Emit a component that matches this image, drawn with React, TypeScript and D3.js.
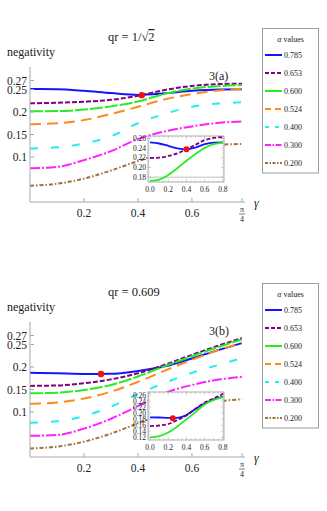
import React from "react";
import * as d3 from "d3";

// ---------- data ----------
const gammas = [0, 0.1, 0.2, 0.3, 0.4, 0.5, 0.6, 0.7, 0.785];
const alphaLabels = ["0.785", "0.653", "0.600", "0.524", "0.400", "0.300", "0.200"];
const yTickValues = [0.1, 0.15, 0.2, 0.25, 0.27];
const yTickLabels = ["0.1", "0.15", "0.2", "0.25", "0.27"];
const xTickValues = [0.2, 0.4, 0.6];

// panel (a): qr = 1/sqrt(2)
const a785 = [0.251, 0.2505, 0.247, 0.242, 0.238, 0.2415, 0.247, 0.25, 0.2505];
const a653 = [0.2195, 0.2205, 0.2228, 0.227, 0.236, 0.249, 0.258, 0.262, 0.263];
const a600 = [0.2015, 0.202, 0.2055, 0.2125, 0.2235, 0.2405, 0.252, 0.2575, 0.26];
const a524 = [0.1725, 0.175, 0.182, 0.1955, 0.2115, 0.228, 0.24, 0.248, 0.252];
const a400 = [0.119, 0.1215, 0.13, 0.146, 0.175, 0.196, 0.2115, 0.219, 0.2215];
const a300 = [0.075, 0.078, 0.093, 0.113, 0.14, 0.157, 0.168, 0.176, 0.179];
const a200 = [0.036, 0.0405, 0.052, 0.07, 0.091, 0.109, 0.121, 0.127, 0.129];
const aDot = [0.414, 0.2374];

// panel (b): qr = 0.609
const b785 = [0.187, 0.186, 0.1845, 0.1848, 0.191, 0.2015, 0.219, 0.238, 0.253];
const b653 = [0.158, 0.159, 0.164, 0.1725, 0.186, 0.205, 0.227, 0.248, 0.264];
const b600 = [0.1415, 0.143, 0.149, 0.16, 0.179, 0.202, 0.224, 0.245, 0.261];
const b524 = [0.118, 0.121, 0.13, 0.145, 0.167, 0.192, 0.216, 0.238, 0.253];
const b400 = [0.076, 0.0795, 0.091, 0.112, 0.14, 0.165, 0.187, 0.205, 0.22];
const b300 = [0.047, 0.049, 0.063, 0.085, 0.113, 0.142, 0.16, 0.172, 0.178];
const b200 = [0.019, 0.023, 0.034, 0.052, 0.075, 0.097, 0.113, 0.124, 0.128];
const bDot = [0.263, 0.1843];

// insets
const insetX = [0, 0.1, 0.2, 0.3, 0.4, 0.5, 0.6, 0.7, 0.8];
const insetXTicks = [0, 0.2, 0.4, 0.6, 0.8];
const insetATicks = [0.18, 0.2, 0.22, 0.24, 0.26];
const insetBTicks = [0.12, 0.14, 0.16, 0.18, 0.2, 0.22, 0.24, 0.26];
const insA785 = [0.2518, 0.2495, 0.2448, 0.2395, 0.2374, 0.2412, 0.2483, 0.2515, 0.2518];
const insA653 = [0.2196, 0.2202, 0.2237, 0.2292, 0.2374, 0.247, 0.2565, 0.261, 0.2625];
const insA600 = [0.1723, 0.1748, 0.1846, 0.1985, 0.214, 0.228, 0.2405, 0.248, 0.2515];
const insADot = [0.4, 0.2374];
const insB785 = [0.186, 0.1855, 0.184, 0.1845, 0.194, 0.214, 0.232, 0.2457, 0.255];
const insB653 = [0.157, 0.159, 0.164, 0.177, 0.192, 0.2145, 0.235, 0.249, 0.264];
const insB600 = [0.12, 0.124, 0.136, 0.156, 0.18, 0.2035, 0.229, 0.2435, 0.253];
const insBDot = [0.25, 0.183];

const colors = ["#1414ff", "#800080", "#22ee22", "#ff8a1a", "#22eeee", "#ff22ff", "#a0703c"];
const dashes = ["none", "5,2", "13,2", "11,6", "8,13", "10,2,2,2", "4,2,1.5,2"];
const legendDashes = ["none", "4,2", "none", "6,4", "4,6", "6,1.5,1.5,1.5", "3,1.5,1.5,1.5"];

const FONT = "'Liberation Serif', 'Times New Roman', serif";

type PanelProps = {
  dy: number;
  title: React.ReactNode;
  tag: string;
  series: number[][];
  dot: number[];
  inset: number[][];
  insetDot: number[];
  insetTicks: number[];
  insetDomain: [number, number];
  insetTop: number;
  insetBottom: number;
  grayLine?: number;
};

function Panel(p: PanelProps) {
  const x = d3.scaleLinear().domain([0, Math.PI / 4]).range([30, 242]);
  const y = d3.scaleLinear().domain([0, 0.3]).range([202 + p.dy, 67 + p.dy]);
  const line = d3
    .line<number>()
    .x((_, i) => x(gammas[i]))
    .y((v) => y(v))
    .curve(d3.curveMonotoneX);

  const ix = d3.scaleLinear().domain([-0.022, 0.812]).range([148, 224]);
  const iy = d3.scaleLinear().domain(p.insetDomain).range([p.insetBottom, p.insetTop]);
  const iline = d3
    .line<number>()
    .x((_, i) => ix(insetX[i]))
    .y((v) => iy(v))
    .curve(d3.curveMonotoneX);
  const insetColors = [colors[0], colors[1], colors[2]];
  const insetDash = ["none", "4,2", "none"];
  const minorX = d3.range(0, 0.81, 0.05);
  const minorY = d3.range(p.insetTicks[0], p.insetDomain[1], 0.005);

  const axisColor = "#a8a8a8";
  const y0 = y(0);
  return (
    <g fontFamily={FONT}>
      {/* title */}
      <text x={108} y={41 + p.dy} fontSize={12.5} fill="#222">
        {p.title}
      </text>
      <text x={7} y={56 + p.dy} fontSize={12} fill="#222">
        negativity
      </text>
      {/* curves */}
      {p.series.map((s, k) => (
        <path
          key={k}
          d={line(s) || ""}
          fill="none"
          stroke={colors[k]}
          strokeWidth={2}
          strokeDasharray={dashes[k]}
        />
      ))}
      <circle cx={x(p.dot[0])} cy={y(p.dot[1])} r={3.2} fill="#ee1111" />
      {/* axes */}
      <line x1={30} x2={30} y1={y0} y2={y(0.3)} stroke={axisColor} strokeWidth={1} />
      <line x1={30} x2={245} y1={y0} y2={y0} stroke={axisColor} strokeWidth={1} />
      {yTickValues.map((v, i) => (
        <g key={i}>
          <line x1={30} x2={34} y1={y(v)} y2={y(v)} stroke={axisColor} />
          <text x={27} y={y(v) + 4} textAnchor="end" fontSize={11.5} fill="#222">
            {yTickLabels[i]}
          </text>
        </g>
      ))}
      {xTickValues.map((v, i) => (
        <g key={i}>
          <line x1={x(v)} x2={x(v)} y1={y0} y2={y0 - 4} stroke={axisColor} />
          <text x={x(v)} y={y0 + 15} textAnchor="middle" fontSize={11.5} fill="#222">
            {v.toFixed(1)}
          </text>
        </g>
      ))}
      <line x1={x(Math.PI / 4)} x2={x(Math.PI / 4)} y1={y0} y2={y0 - 4} stroke={axisColor} />
      <text x={x(Math.PI / 4)} y={y0 + 10} textAnchor="middle" fontSize={8} fill="#222">
        π
      </text>
      <line x1={x(Math.PI / 4) - 3} x2={x(Math.PI / 4) + 3} y1={y0 + 12} y2={y0 + 12} stroke="#222" strokeWidth={0.6} />
      <text x={x(Math.PI / 4)} y={y0 + 19.5} textAnchor="middle" fontSize={8} fill="#222">
        4
      </text>
      <text x={254} y={y0 + 5} fontSize={12} fontStyle="italic" fill="#222">
        γ
      </text>
      <text x={209} y={80 + p.dy} fontSize={12} fill="#222">
        {p.tag}
      </text>
      {/* legend */}
      <rect x={262.5} y={28.5 + p.dy} width={56} height={144.5} fill="white" stroke="#888" strokeWidth={0.8} />
      <text x={290.5} y={42 + p.dy} textAnchor="middle" fontSize={8} fill="#222">
        <tspan fontStyle="italic">α</tspan> values
      </text>
      {alphaLabels.map((lab, k) => {
        const ly = 55 + k * 18 + p.dy;
        return (
          <g key={k}>
            <line x1={265} x2={282} y1={ly} y2={ly} stroke={colors[k]} strokeWidth={2} strokeDasharray={legendDashes[k]} />
            <text x={284} y={ly + 3} fontSize={8} fill="#222">
              {lab}
            </text>
          </g>
        );
      })}
      {/* inset */}
      <rect x={148} y={p.insetTop} width={76} height={p.insetBottom - p.insetTop} fill="white" stroke="#999" strokeWidth={0.8} />
      {p.grayLine !== undefined && (
        <line x1={148} x2={224} y1={iy(p.grayLine)} y2={iy(p.grayLine)} stroke="#b0b0b0" strokeWidth={0.8} />
      )}
      {minorX.map((v, i) => {
        const major = Math.abs(v * 5 - Math.round(v * 5)) < 1e-6;
        const len = major ? 3 : 1.5;
        return (
          <g key={"mx" + i}>
            <line x1={ix(v)} x2={ix(v)} y1={p.insetBottom} y2={p.insetBottom - len} stroke="#999" strokeWidth={0.5} />
            <line x1={ix(v)} x2={ix(v)} y1={p.insetTop} y2={p.insetTop + len} stroke="#999" strokeWidth={0.5} />
          </g>
        );
      })}
      {minorY.map((v, i) => {
        const major = Math.abs(v * 50 - Math.round(v * 50)) < 1e-6;
        const len = major ? 3 : 1.5;
        return (
          <g key={"my" + i}>
            <line x1={148} x2={148 + len} y1={iy(v)} y2={iy(v)} stroke="#999" strokeWidth={0.5} />
            <line x1={224} x2={224 - len} y1={iy(v)} y2={iy(v)} stroke="#999" strokeWidth={0.5} />
          </g>
        );
      })}
      {p.inset.map((s, k) => (
        <path key={k} d={iline(s) || ""} fill="none" stroke={insetColors[k]} strokeWidth={1.8} strokeDasharray={insetDash[k]} />
      ))}
      <circle cx={ix(p.insetDot[0])} cy={iy(p.insetDot[1])} r={3} fill="#ee1111" />
      {insetXTicks.map((v, i) => (
        <text key={i} x={ix(v)} y={p.insetBottom + 10} textAnchor="middle" fontSize={7.5} fill="#222">
          {v.toFixed(1)}
        </text>
      ))}
      {p.insetTicks.map((v, i) => (
        <text key={i} x={146} y={iy(v) + 2.6} textAnchor="end" fontSize={7.5} fill="#222">
          {v.toFixed(2)}
        </text>
      ))}
    </g>
  );
}

export default function App() {
  return (
    <svg width={327} height={511} style={{ position: "absolute", left: 0, top: 0, background: "white" }}>
      <rect width={327} height={511} fill="white" />
      <Panel
        dy={0}
        title={
          <>
            qr = 1/√<tspan style={{ textDecoration: "overline" }}>2</tspan>
          </>
        }
        tag="3(a)"
        series={[a785, a653, a600, a524, a400, a300, a200]}
        dot={aDot}
        inset={[insA785, insA653, insA600]}
        insetDot={insADot}
        insetTicks={insetATicks}
        insetDomain={[0.17, 0.265]}
        insetTop={136}
        insetBottom={182}
        grayLine={0.18}
      />
      <Panel
        dy={255}
        title="qr = 0.609"
        tag="3(b)"
        series={[b785, b653, b600, b524, b400, b300, b200]}
        dot={bDot}
        inset={[insB785, insB653, insB600]}
        insetDot={insBDot}
        insetTicks={insetBTicks}
        insetDomain={[0.111, 0.27]}
        insetTop={392}
        insetBottom={440}
      />
    </svg>
  );
}
